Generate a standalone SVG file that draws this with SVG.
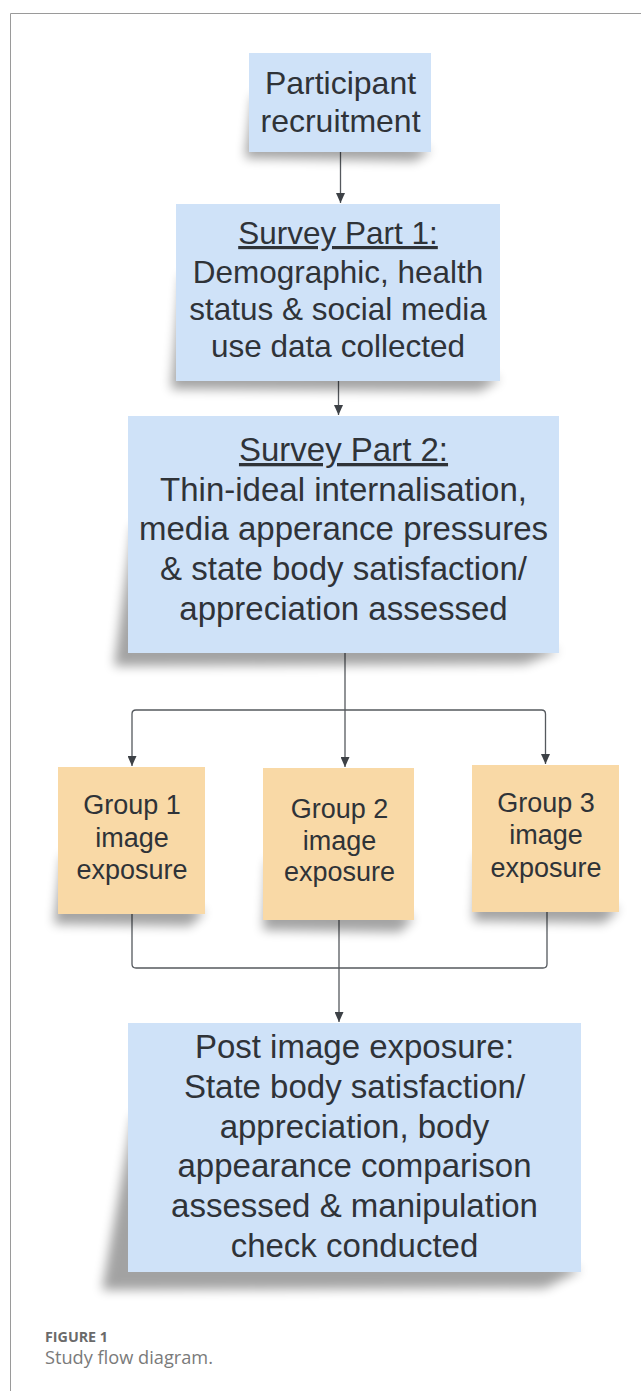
<svg xmlns="http://www.w3.org/2000/svg" width="641" height="1391" viewBox="0 0 641 1391">
  <defs>
    <style>
      .blue { fill: #cfe2f8; }
      .orange { fill: #f9d9a6; }
      .shadow { fill: #000; opacity: 0.36; filter: url(#blur); }
      .t { font-family: "Liberation Sans", Arial, sans-serif; fill: #2f3338; text-anchor: middle; }
      .t31 { font-size: 31.5px; }
      .t32 { font-size: 32px; }
      .t33 { font-size: 33px; }
      .t27 { font-size: 27px; }
      .u { text-decoration: underline; }
      .conn { fill: none; stroke: #55595e; stroke-width: 1.3; }
      .frame { fill: none; stroke: #9a9a9a; stroke-width: 1; }
      .cap1 { font-family: "Open Sans", "Noto Sans", sans-serif; font-weight: 700; font-size: 15px; fill: #6a6a6a; }
      .cap2 { font-family: "Open Sans", "Noto Sans", sans-serif; font-size: 18.5px; fill: #7a7a7a; }
    </style>
    <filter id="blur" x="-20%" y="-20%" width="140%" height="140%">
      <feGaussianBlur stdDeviation="5.5"/>
    </filter>
    <marker id="arrow" markerUnits="userSpaceOnUse" markerWidth="10" markerHeight="9" refX="10" refY="4.5" orient="auto">
      <path d="M0,0 L10,4.5 L0,9 Z" fill="#3d4146"/>
    </marker>
  </defs>

  <rect x="0" y="0" width="641" height="1391" fill="#ffffff"/>
  <path class="frame" d="M10.5,1391 V13.5 H641"/>

  <g id="connectors">
    <path class="conn" d="M340.5,152 V203" marker-end="url(#arrow)"/>
    <path class="conn" d="M338.5,381 V415" marker-end="url(#arrow)"/>
    <path class="conn" d="M345,653 V767" marker-end="url(#arrow)"/>
    <path class="conn" d="M345,710 H136 Q132,710 132,714 V766" marker-end="url(#arrow)"/>
    <path class="conn" d="M345,710 H541.5 Q545.5,710 545.5,714 V764" marker-end="url(#arrow)"/>
    <path class="conn" d="M132,914 V964 Q132,968 136,968 H543 Q547,968 547,964 V912"/>
    <path class="conn" d="M339,920 V1022" marker-end="url(#arrow)"/>
  </g>

  <g id="node-recruitment">
    <path class="shadow" d="M253,95 L245,158 L415,161 L431,150 Z"/>
    <rect class="blue" x="249" y="53" width="182" height="99"/>
    <text class="t t32" x="340.5" y="94">Participant</text>
    <text class="t t32" x="340.5" y="132">recruitment</text>
  </g>

  <g id="node-survey1">
    <path class="shadow" d="M181,275 L171,389 L480,391 L500,379 Z"/>
    <rect class="blue" x="176" y="204" width="324" height="177"/>
    <text class="t t31 u" x="338" y="244">Survey Part 1:</text>
    <text class="t t31" x="338" y="283">Demographic, health</text>
    <text class="t t31" x="338" y="320">status &amp; social media</text>
    <text class="t t31" x="338" y="357">use data collected</text>
  </g>

  <g id="node-survey2">
    <path class="shadow" d="M133,525 L114,666 L525,664 L559,651 Z"/>
    <rect class="blue" x="128" y="416" width="431" height="237"/>
    <text class="t t33 u" x="343.5" y="461">Survey Part 2:</text>
    <text class="t t33" x="343.5" y="501">Thin-ideal internalisation,</text>
    <text class="t t33" x="343.5" y="540">media apperance pressures</text>
    <text class="t t33" x="343.5" y="580">&amp; state body satisfaction/</text>
    <text class="t t33" x="343.5" y="620">appreciation assessed</text>
  </g>

  <g id="node-group1">
    <path class="shadow" d="M62,855 L54,924 L190,926 L205,912 Z"/>
    <rect class="orange" x="58" y="767" width="147" height="147"/>
    <text class="t t27" x="132" y="814">Group 1</text>
    <text class="t t27" x="132" y="847">image</text>
    <text class="t t27" x="132" y="879">exposure</text>
  </g>

  <g id="node-group2">
    <path class="shadow" d="M267,860 L263,930 L400,932 L414,918 Z"/>
    <rect class="orange" x="263" y="768" width="151" height="152"/>
    <text class="t t27" x="339.5" y="818">Group 2</text>
    <text class="t t27" x="339.5" y="850">image</text>
    <text class="t t27" x="339.5" y="881">exposure</text>
  </g>

  <g id="node-group3">
    <path class="shadow" d="M477,855 L473,921 L604,923 L619,909 Z"/>
    <rect class="orange" x="472" y="765" width="147" height="147"/>
    <text class="t t27" x="546" y="812">Group 3</text>
    <text class="t t27" x="546" y="844">image</text>
    <text class="t t27" x="546" y="877">exposure</text>
  </g>

  <g id="node-post">
    <path class="shadow" d="M133,1115 L102,1290 L545,1288 L581,1270 Z"/>
    <rect class="blue" x="128" y="1023" width="453" height="249"/>
    <text class="t t33" x="354.5" y="1058">Post image exposure:</text>
    <text class="t t33" x="354.5" y="1098">State body satisfaction/</text>
    <text class="t t33" x="354.5" y="1138">appreciation, body</text>
    <text class="t t33" x="354.5" y="1177">appearance comparison</text>
    <text class="t t33" x="354.5" y="1217">assessed &amp; manipulation</text>
    <text class="t t33" x="354.5" y="1257">check conducted</text>
  </g>

  <g id="caption">
    <text class="cap1" x="45" y="1342" textLength="63" lengthAdjust="spacingAndGlyphs">FIGURE 1</text>
    <text class="cap2" x="45" y="1364" textLength="168" lengthAdjust="spacingAndGlyphs">Study flow diagram.</text>
  </g>
</svg>
